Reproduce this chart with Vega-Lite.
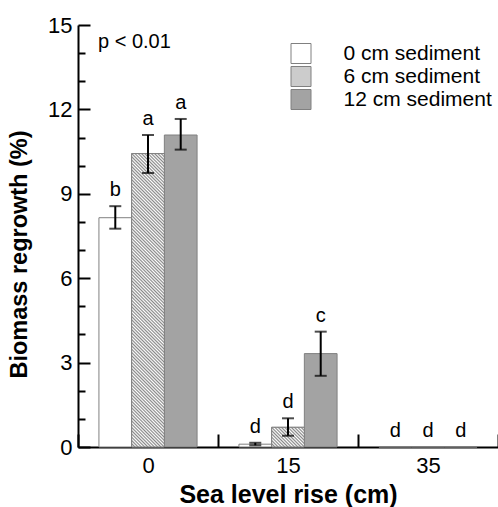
{
"$schema": "https://vega.github.io/schema/vega-lite/v6.json",
"width": 420, "height": 422,
"autosize": {"type": "none"},
"padding": {"left": 78, "top": 25, "right": 0, "bottom": 60},
"background": "white",
"config": {"font": "Liberation Sans", "view": {"stroke": null}, "axis": {"labelFont": "Liberation Sans", "titleFont": "Liberation Sans", "labelColor": "black", "titleColor": "black", "domainColor": "black", "tickColor": "black", "grid": false}, "legend": {"labelFont": "Liberation Sans"}},
"title": {"text": "p < 0.01", "anchor": "start", "frame": "group", "orient": "top", "offset": -54, "dx": 20, "fontSize": 20, "fontWeight": "normal", "font": "Liberation Sans", "color": "black", "baseline": "alphabetic"},
"data": {"values": [
 {"slr": "0", "sed": "0 cm sediment", "mean": 8.15, "lo": 7.76, "hi": 8.56, "letter": "b"},
 {"slr": "0", "sed": "6 cm sediment", "mean": 10.43, "lo": 9.74, "hi": 11.09, "letter": "a"},
 {"slr": "0", "sed": "12 cm sediment", "mean": 11.09, "lo": 10.57, "hi": 11.66, "letter": "a"},
 {"slr": "15", "sed": "0 cm sediment", "mean": 0.1, "lo": 0.06, "hi": 0.15, "letter": "d"},
 {"slr": "15", "sed": "6 cm sediment", "mean": 0.7, "lo": 0.4, "hi": 1.02, "letter": "d"},
 {"slr": "15", "sed": "12 cm sediment", "mean": 3.32, "lo": 2.53, "hi": 4.1, "letter": "c"},
 {"slr": "35", "sed": "0 cm sediment", "mean": 0, "lo": 0, "hi": 0, "letter": "d"},
 {"slr": "35", "sed": "6 cm sediment", "mean": 0, "lo": 0, "hi": 0, "letter": "d"},
 {"slr": "35", "sed": "12 cm sediment", "mean": 0, "lo": 0, "hi": 0, "letter": "d"}
]},
"layer": [
 {"mark": {"type": "bar", "stroke": "#808080", "strokeWidth": 1},
  "encoding": {
   "x": {"field": "slr", "type": "nominal", "scale": {"domain": ["0", "15", "35"], "paddingInner": 0, "paddingOuter": 0},
         "axis": {"tickBand": "extent", "ticks": true, "tickSize": -13, "tickWidth": 2, "domainWidth": 2, "labelFontSize": 22, "labelAngle": 0, "labelPadding": 21, "title": "Sea level rise (cm)", "titleFontSize": 25, "titleFontWeight": "bold", "titleX": 210, "titleY": 55, "titleBaseline": "alphabetic", "titleAlign": "center"}},
   "xOffset": {"field": "sed", "type": "nominal", "scale": {"domain": ["0 cm sediment", "6 cm sediment", "12 cm sediment"], "paddingInner": 0, "paddingOuter": 0.64}},
   "y": {"field": "mean", "type": "quantitative", "scale": {"domain": [0, 15], "nice": false},
         "axis": {"orient": "left", "values": [0, 3, 6, 9, 12, 15], "tickSize": -12, "tickWidth": 2, "domainWidth": 2, "labelFontSize": 22, "labelPadding": 18, "title": "Biomass regrowth (%)", "titleFontSize": 23.5, "titleFontWeight": "bold", "titleX": -59, "titleY": 229, "titleAngle": -90, "titleAlign": "center", "titleBaseline": "middle"}},
   "fill": {"field": "sed", "type": "nominal", "scale": {"domain": ["0 cm sediment", "6 cm sediment", "12 cm sediment"], "range": ["#ffffff", "#cccccc", "#a3a3a3"]},
     "legend": {"title": null, "orient": "none", "legendX": 212.5, "legendY": 18, "direction": "vertical", "symbolType": "square", "symbolSize": 400, "symbolStrokeColor": "#808080", "symbolStrokeWidth": 1, "labelFontSize": 21, "labelColor": "black", "labelOffset": 32, "rowPadding": -3, "padding": 0}}
  }},
 {"transform": [{"filter": "datum.sed === '6 cm sediment' && datum.slr === '0'"}],
  "mark": {"type": "bar", "stroke": "#808080", "strokeWidth": 1,
   "fill": {"gradient": "linear", "x1": 0, "y1": 1, "x2": 0.1224, "y2": -0.0978, "stops": [
{"offset":0,"color":"#888"},{"offset":0.005,"color":"#fff"},{"offset":0.01,"color":"#888"},{"offset":0.015,"color":"#fff"},{"offset":0.02,"color":"#888"},{"offset":0.025,"color":"#fff"},{"offset":0.03,"color":"#888"},{"offset":0.035,"color":"#fff"},{"offset":0.04,"color":"#888"},{"offset":0.045,"color":"#fff"},
{"offset":0.05,"color":"#888"},{"offset":0.055,"color":"#fff"},{"offset":0.06,"color":"#888"},{"offset":0.065,"color":"#fff"},{"offset":0.07,"color":"#888"},{"offset":0.075,"color":"#fff"},{"offset":0.08,"color":"#888"},{"offset":0.085,"color":"#fff"},{"offset":0.09,"color":"#888"},{"offset":0.095,"color":"#fff"},
{"offset":0.1,"color":"#888"},{"offset":0.105,"color":"#fff"},{"offset":0.11,"color":"#888"},{"offset":0.115,"color":"#fff"},{"offset":0.12,"color":"#888"},{"offset":0.125,"color":"#fff"},{"offset":0.13,"color":"#888"},{"offset":0.135,"color":"#fff"},{"offset":0.14,"color":"#888"},{"offset":0.145,"color":"#fff"},
{"offset":0.15,"color":"#888"},{"offset":0.155,"color":"#fff"},{"offset":0.16,"color":"#888"},{"offset":0.165,"color":"#fff"},{"offset":0.17,"color":"#888"},{"offset":0.175,"color":"#fff"},{"offset":0.18,"color":"#888"},{"offset":0.185,"color":"#fff"},{"offset":0.19,"color":"#888"},{"offset":0.195,"color":"#fff"},
{"offset":0.2,"color":"#888"},{"offset":0.205,"color":"#fff"},{"offset":0.21,"color":"#888"},{"offset":0.215,"color":"#fff"},{"offset":0.22,"color":"#888"},{"offset":0.225,"color":"#fff"},{"offset":0.23,"color":"#888"},{"offset":0.235,"color":"#fff"},{"offset":0.24,"color":"#888"},{"offset":0.245,"color":"#fff"},
{"offset":0.25,"color":"#888"},{"offset":0.255,"color":"#fff"},{"offset":0.26,"color":"#888"},{"offset":0.265,"color":"#fff"},{"offset":0.27,"color":"#888"},{"offset":0.275,"color":"#fff"},{"offset":0.28,"color":"#888"},{"offset":0.285,"color":"#fff"},{"offset":0.29,"color":"#888"},{"offset":0.295,"color":"#fff"},
{"offset":0.3,"color":"#888"},{"offset":0.305,"color":"#fff"},{"offset":0.31,"color":"#888"},{"offset":0.315,"color":"#fff"},{"offset":0.32,"color":"#888"},{"offset":0.325,"color":"#fff"},{"offset":0.33,"color":"#888"},{"offset":0.335,"color":"#fff"},{"offset":0.34,"color":"#888"},{"offset":0.345,"color":"#fff"},
{"offset":0.35,"color":"#888"},{"offset":0.355,"color":"#fff"},{"offset":0.36,"color":"#888"},{"offset":0.365,"color":"#fff"},{"offset":0.37,"color":"#888"},{"offset":0.375,"color":"#fff"},{"offset":0.38,"color":"#888"},{"offset":0.385,"color":"#fff"},{"offset":0.39,"color":"#888"},{"offset":0.395,"color":"#fff"},
{"offset":0.4,"color":"#888"},{"offset":0.405,"color":"#fff"},{"offset":0.41,"color":"#888"},{"offset":0.415,"color":"#fff"},{"offset":0.42,"color":"#888"},{"offset":0.425,"color":"#fff"},{"offset":0.43,"color":"#888"},{"offset":0.435,"color":"#fff"},{"offset":0.44,"color":"#888"},{"offset":0.445,"color":"#fff"},
{"offset":0.45,"color":"#888"},{"offset":0.455,"color":"#fff"},{"offset":0.46,"color":"#888"},{"offset":0.465,"color":"#fff"},{"offset":0.47,"color":"#888"},{"offset":0.475,"color":"#fff"},{"offset":0.48,"color":"#888"},{"offset":0.485,"color":"#fff"},{"offset":0.49,"color":"#888"},{"offset":0.495,"color":"#fff"},
{"offset":0.5,"color":"#888"},{"offset":0.505,"color":"#fff"},{"offset":0.51,"color":"#888"},{"offset":0.515,"color":"#fff"},{"offset":0.52,"color":"#888"},{"offset":0.525,"color":"#fff"},{"offset":0.53,"color":"#888"},{"offset":0.535,"color":"#fff"},{"offset":0.54,"color":"#888"},{"offset":0.545,"color":"#fff"},
{"offset":0.55,"color":"#888"},{"offset":0.555,"color":"#fff"},{"offset":0.56,"color":"#888"},{"offset":0.565,"color":"#fff"},{"offset":0.57,"color":"#888"},{"offset":0.575,"color":"#fff"},{"offset":0.58,"color":"#888"},{"offset":0.585,"color":"#fff"},{"offset":0.59,"color":"#888"},{"offset":0.595,"color":"#fff"},
{"offset":0.6,"color":"#888"},{"offset":0.605,"color":"#fff"},{"offset":0.61,"color":"#888"},{"offset":0.615,"color":"#fff"},{"offset":0.62,"color":"#888"},{"offset":0.625,"color":"#fff"},{"offset":0.63,"color":"#888"},{"offset":0.635,"color":"#fff"},{"offset":0.64,"color":"#888"},{"offset":0.645,"color":"#fff"},
{"offset":0.65,"color":"#888"},{"offset":0.655,"color":"#fff"},{"offset":0.66,"color":"#888"},{"offset":0.665,"color":"#fff"},{"offset":0.67,"color":"#888"},{"offset":0.675,"color":"#fff"},{"offset":0.68,"color":"#888"},{"offset":0.685,"color":"#fff"},{"offset":0.69,"color":"#888"},{"offset":0.695,"color":"#fff"},
{"offset":0.7,"color":"#888"},{"offset":0.705,"color":"#fff"},{"offset":0.71,"color":"#888"},{"offset":0.715,"color":"#fff"},{"offset":0.72,"color":"#888"},{"offset":0.725,"color":"#fff"},{"offset":0.73,"color":"#888"},{"offset":0.735,"color":"#fff"},{"offset":0.74,"color":"#888"},{"offset":0.745,"color":"#fff"},
{"offset":0.75,"color":"#888"},{"offset":0.755,"color":"#fff"},{"offset":0.76,"color":"#888"},{"offset":0.765,"color":"#fff"},{"offset":0.77,"color":"#888"},{"offset":0.775,"color":"#fff"},{"offset":0.78,"color":"#888"},{"offset":0.785,"color":"#fff"},{"offset":0.79,"color":"#888"},{"offset":0.795,"color":"#fff"},
{"offset":0.8,"color":"#888"},{"offset":0.805,"color":"#fff"},{"offset":0.81,"color":"#888"},{"offset":0.815,"color":"#fff"},{"offset":0.82,"color":"#888"},{"offset":0.825,"color":"#fff"},{"offset":0.83,"color":"#888"},{"offset":0.835,"color":"#fff"},{"offset":0.84,"color":"#888"},{"offset":0.845,"color":"#fff"},
{"offset":0.85,"color":"#888"},{"offset":0.855,"color":"#fff"},{"offset":0.86,"color":"#888"},{"offset":0.865,"color":"#fff"},{"offset":0.87,"color":"#888"},{"offset":0.875,"color":"#fff"},{"offset":0.88,"color":"#888"},{"offset":0.885,"color":"#fff"},{"offset":0.89,"color":"#888"},{"offset":0.895,"color":"#fff"},
{"offset":0.9,"color":"#888"},{"offset":0.905,"color":"#fff"},{"offset":0.91,"color":"#888"},{"offset":0.915,"color":"#fff"},{"offset":0.92,"color":"#888"},{"offset":0.925,"color":"#fff"},{"offset":0.93,"color":"#888"},{"offset":0.935,"color":"#fff"},{"offset":0.94,"color":"#888"},{"offset":0.945,"color":"#fff"},
{"offset":0.95,"color":"#888"},{"offset":0.955,"color":"#fff"},{"offset":0.96,"color":"#888"},{"offset":0.965,"color":"#fff"},{"offset":0.97,"color":"#888"},{"offset":0.975,"color":"#fff"},{"offset":0.98,"color":"#888"},{"offset":0.985,"color":"#fff"},{"offset":0.99,"color":"#888"},{"offset":0.995,"color":"#fff"},
{"offset":1,"color":"#888"}]}},
  "encoding": {
   "x": {"field": "slr", "type": "nominal"},
   "xOffset": {"field": "sed", "type": "nominal", "scale": {"domain": ["0 cm sediment", "6 cm sediment", "12 cm sediment"]}},
   "y": {"field": "mean", "type": "quantitative", "axis": null}
  }},
 {"transform": [{"filter": "datum.sed === '6 cm sediment' && datum.slr === '15'"}],
  "mark": {"type": "bar", "stroke": "#808080", "strokeWidth": 1,
   "fill": {"gradient": "linear", "x1": 0, "y1": 1, "x2": 1.1758, "y2": 0.2922, "stops": [
{"offset":0,"color":"#888"},{"offset":0.03125,"color":"#fff"},{"offset":0.0625,"color":"#888"},{"offset":0.09375,"color":"#fff"},{"offset":0.125,"color":"#888"},{"offset":0.15625,"color":"#fff"},{"offset":0.1875,"color":"#888"},{"offset":0.21875,"color":"#fff"},{"offset":0.25,"color":"#888"},{"offset":0.28125,"color":"#fff"},{"offset":0.3125,"color":"#888"},{"offset":0.34375,"color":"#fff"},{"offset":0.375,"color":"#888"},{"offset":0.40625,"color":"#fff"},{"offset":0.4375,"color":"#888"},{"offset":0.46875,"color":"#fff"},{"offset":0.5,"color":"#888"},{"offset":0.53125,"color":"#fff"},{"offset":0.5625,"color":"#888"},{"offset":0.59375,"color":"#fff"},{"offset":0.625,"color":"#888"},{"offset":0.65625,"color":"#fff"},{"offset":0.6875,"color":"#888"},{"offset":0.71875,"color":"#fff"},{"offset":0.75,"color":"#888"},{"offset":0.78125,"color":"#fff"},{"offset":0.8125,"color":"#888"},{"offset":0.84375,"color":"#fff"},{"offset":0.875,"color":"#888"},{"offset":0.90625,"color":"#fff"},{"offset":0.9375,"color":"#888"},{"offset":0.96875,"color":"#fff"},{"offset":1,"color":"#888"}]}},
  "encoding": {
   "x": {"field": "slr", "type": "nominal"},
   "xOffset": {"field": "sed", "type": "nominal", "scale": {"domain": ["0 cm sediment", "6 cm sediment", "12 cm sediment"]}},
   "y": {"field": "mean", "type": "quantitative", "axis": null}
  }},
 {"transform": [{"filter": "datum.hi > 0"}],
  "mark": {"type": "rule", "color": "black", "strokeWidth": 2},
  "encoding": {
   "x": {"field": "slr", "type": "nominal"},
   "xOffset": {"field": "sed", "type": "nominal", "scale": {"domain": ["0 cm sediment", "6 cm sediment", "12 cm sediment"]}},
   "y": {"field": "lo", "type": "quantitative", "axis": {"orient": "left", "values": [1, 2, 4, 5, 7, 8, 10, 11, 13, 14], "tickSize": -7, "tickWidth": 2, "labels": false, "domain": false, "title": null}},
   "y2": {"field": "hi"}
  }},
 {"transform": [{"filter": "datum.hi > 0"}],
  "mark": {"type": "tick", "color": "black", "size": 12, "thickness": 2},
  "encoding": {
   "x": {"field": "slr", "type": "nominal"},
   "xOffset": {"field": "sed", "type": "nominal", "scale": {"domain": ["0 cm sediment", "6 cm sediment", "12 cm sediment"]}},
   "y": {"field": "lo", "type": "quantitative", "axis": null}
  }},
 {"transform": [{"filter": "datum.hi > 0"}],
  "mark": {"type": "tick", "color": "black", "size": 12, "thickness": 2},
  "encoding": {
   "x": {"field": "slr", "type": "nominal"},
   "xOffset": {"field": "sed", "type": "nominal", "scale": {"domain": ["0 cm sediment", "6 cm sediment", "12 cm sediment"]}},
   "y": {"field": "hi", "type": "quantitative", "axis": null}
  }},
 {"mark": {"type": "text", "fontSize": 20, "dy": -10, "baseline": "alphabetic", "align": "center", "color": "black", "font": "Liberation Sans"},
  "encoding": {
   "x": {"field": "slr", "type": "nominal"},
   "xOffset": {"field": "sed", "type": "nominal", "scale": {"domain": ["0 cm sediment", "6 cm sediment", "12 cm sediment"]}},
   "y": {"field": "hi", "type": "quantitative", "axis": null},
   "text": {"field": "letter"}
  }}
],
"resolve": {"axis": {"y": "independent"}}
}
